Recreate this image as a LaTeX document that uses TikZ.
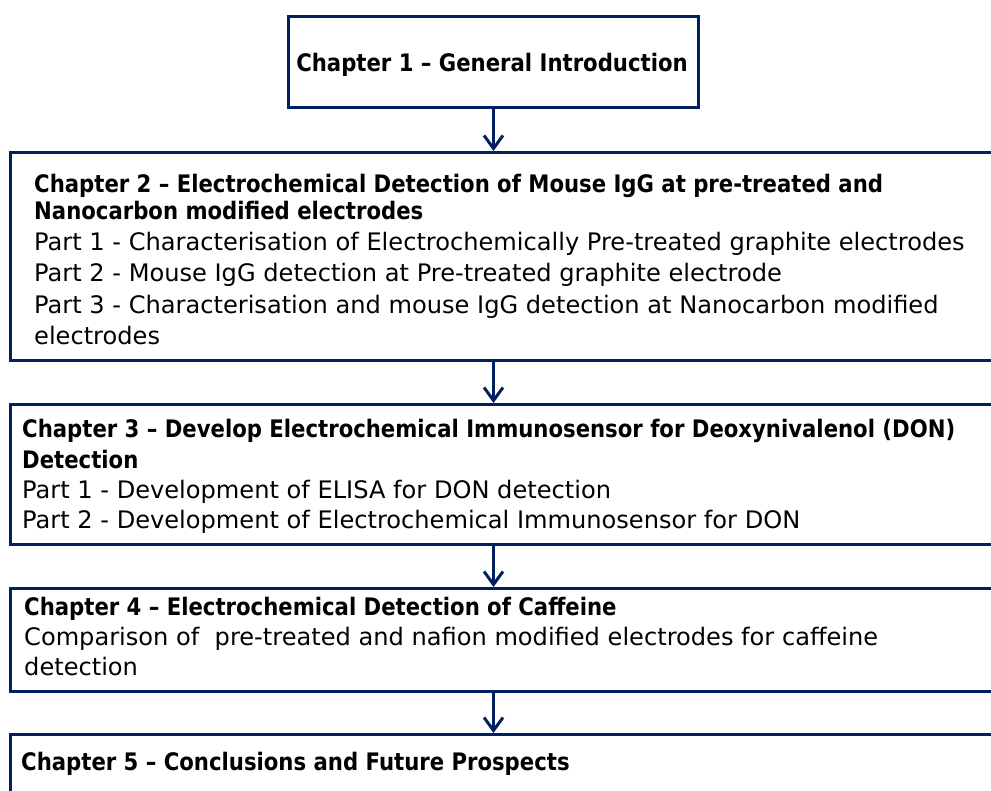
\documentclass[tikz,border=0pt]{standalone}
\usepackage{fontspec}
\setmainfont{DejaVu Sans}[BoldFeatures={FakeStretch=0.88}]
\usetikzlibrary{arrows.meta}
\definecolor{navy}{RGB}{0,32,96}
\begin{document}
\begin{tikzpicture}[x=1pt,y=-1pt,
  box/.style={draw=navy, line width=3pt, fill=white, rectangle, inner sep=0pt, anchor=north west},
  txt/.style={inner sep=0pt, anchor=base west, font=\fontsize{24.1}{28}\selectfont},
  flow/.style={draw=navy, line width=3pt, -{Straight Barb[length=13pt,width=19pt,line width=3pt]}}]
\useasboundingbox (0,0) rectangle (991,791);
\clip (0,0) rectangle (991,791);
% boxes
\node[box, minimum width=410pt, minimum height=91pt] (b1) at (287,15) {};
\node[box, minimum width=995pt, minimum height=208pt] (b2) at (9,151) {};
\node[box, minimum width=995pt, minimum height=140pt] (b3) at (9,403) {};
\node[box, minimum width=995pt, minimum height=103pt] (b4) at (9,587) {};
\node[box, minimum width=995pt, minimum height=100pt] (b5) at (9,733) {};
% texts
\node[txt, anchor=base] (t1) at (492,72) {\bfseries Chapter 1 – General Introduction};
\node[txt] (t2a) at (34,193) {\bfseries Chapter 2 – Electrochemical Detection of Mouse IgG at pre-treated and};
\node[txt] (t2b) at (34,220) {\bfseries Nanocarbon modified electrodes};
\node[txt] (t2c) at (34,251) {Part 1 - Characterisation of Electrochemically Pre-treated graphite electrodes};
\node[txt] (t2d) at (34,282) {Part 2 - Mouse IgG detection at Pre-treated graphite electrode};
\node[txt] (t2e) at (34,314) {Part 3 - Characterisation and mouse IgG detection at Nanocarbon modified};
\node[txt] (t2f) at (34,345) {electrodes};
\node[txt] (t3a) at (22,438) {\bfseries Chapter 3 – Develop Electrochemical Immunosensor for Deoxynivalenol (DON)};
\node[txt] (t3b) at (22,468) {\bfseries Detection};
\node[txt] (t3c) at (22,498) {Part 1 - Development of ELISA for DON detection};
\node[txt] (t3d) at (22,528) {Part 2 - Development of Electrochemical Immunosensor for DON};
\node[txt] (t4a) at (24,615) {\bfseries Chapter 4 – Electrochemical Detection of Caffeine};
\node[txt] (t4b) at (24,645) {Comparison of \ pre-treated and nafion modified electrodes for caffeine};
\node[txt] (t4c) at (24,675) {detection};
\node[txt] (t5a) at (21,770) {\bfseries Chapter 5 – Conclusions and Future Prospects};
% arrows
\draw[flow] (b1.south) -- (b1.south |- b2.north);
\draw[flow] (b2.south -| b1.south) -- (b3.north -| b1.south);
\draw[flow] (b3.south -| b1.south) -- (b4.north -| b1.south);
\draw[flow] (b4.south -| b1.south) -- (b5.north -| b1.south);
\end{tikzpicture}
\end{document}
